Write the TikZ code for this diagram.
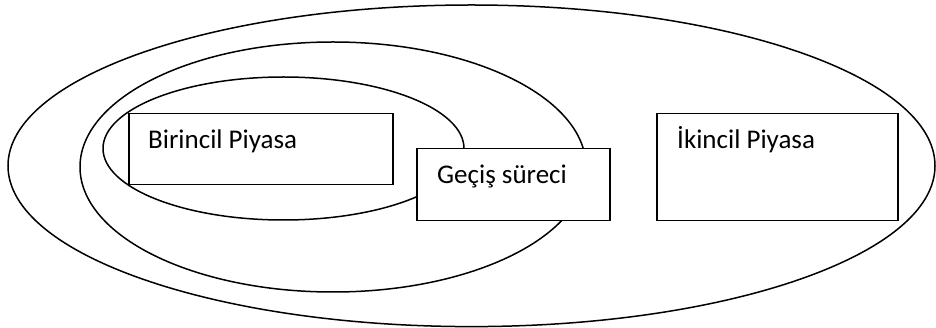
\documentclass[tikz,border=0pt]{standalone}
\usepackage{fontspec}
\setmainfont{Carlito}
\usepackage{tikz}
\usetikzlibrary{positioning}

\begin{document}
\begin{tikzpicture}[x=1pt, y=-1pt,
                ring/.style={draw, line width=1.5pt},
                market/.style={draw, line width=1.5pt, fill=white, inner sep=0pt},
                label/.style={anchor=base west, font=\fontsize{27}{31}\selectfont, inner sep=0pt}]

                \useasboundingbox (0,0) rectangle (936,328);

                % Nested market rings
                \draw[ring] (471.5,165.8) ellipse [x radius=463.5, y radius=160.8];
                \draw[ring] (333,167) ellipse [x radius=253, y radius=125];
                \draw[ring] (283.5,148.5) ellipse [x radius=180.5, y radius=71.5];

                % Market boxes
                \node[market, minimum width=264pt, minimum height=71pt, anchor=north west] (birincil) at (128,113) {};
                \node[market, minimum width=193pt, minimum height=72pt, anchor=north west] (gecis) at (416,148) {};
                \node[market, minimum width=241pt, minimum height=107pt, anchor=north west] (ikincil) at (656,113) {};

                % Box texts
                \node[label] (birincil-text) at ([xshift=20pt, yshift=-36pt]birincil.north west) {Birincil Piyasa};
                \node[label] (gecis-text) at ([xshift=21pt, yshift=-36pt]gecis.north west) {Geçiş süreci};
                \node[label] (ikincil-text) at ([xshift=21pt, yshift=-36pt]ikincil.north west) {İkincil Piyasa};
            \end{tikzpicture}
\end{document}
